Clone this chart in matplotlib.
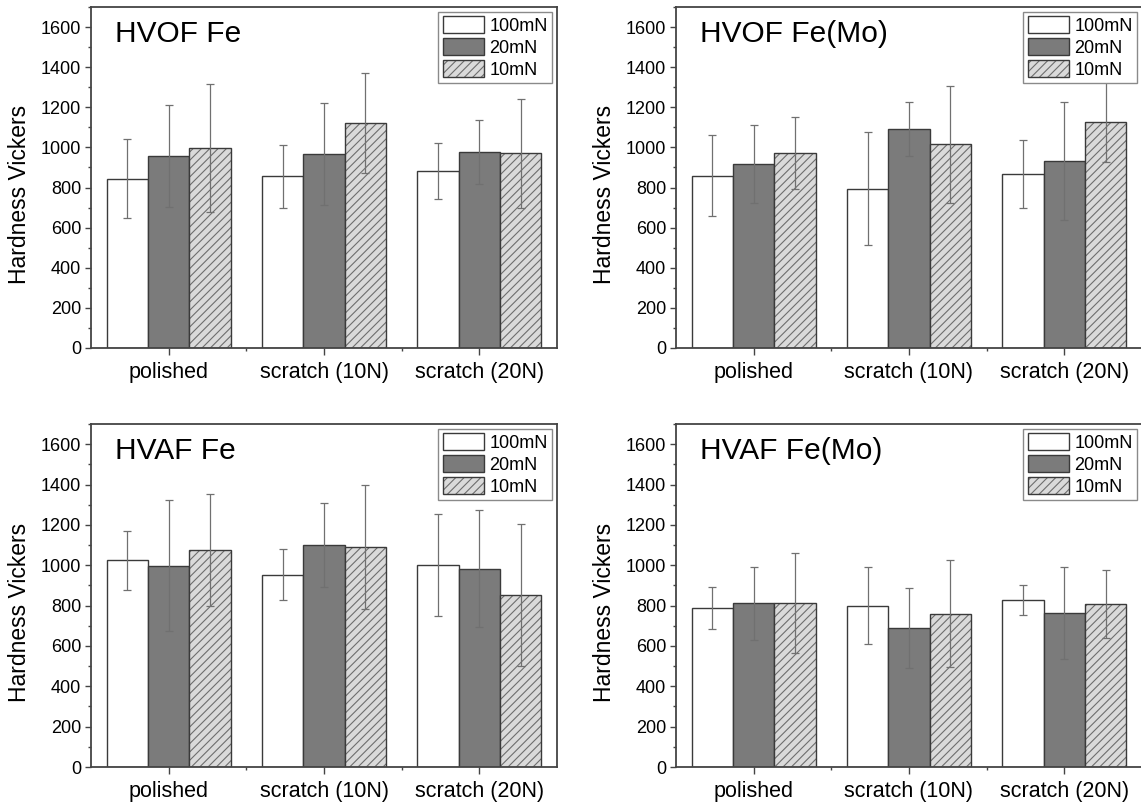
import matplotlib
matplotlib.use('Agg')
import matplotlib.pyplot as plt
import numpy as np
from matplotlib.ticker import MultipleLocator, FixedLocator

plt.rcParams['font.family'] = ['Liberation Sans', 'DejaVu Sans']
plt.rcParams['hatch.linewidth'] = 0.8

categories = ['polished', 'scratch (10N)', 'scratch (20N)']
loads = ['100mN', '20mN', '10mN']

# hardness (HV) per load, one list per surface state
hvof_fe = [[845, 856, 881], [957, 967, 977], [998, 1121, 970]]
hvof_fe_err = [[198, 158, 139], [254, 255, 161], [318, 248, 273]]

hvof_femo = [[859, 794, 867], [917, 1090, 932], [973, 1015, 1128]]
hvof_femo_err = [[201, 283, 168], [195, 135, 295], [178, 291, 199]]

hvaf_fe = [[1024, 954, 1000], [997, 1100, 982], [1077, 1092, 853]]
hvaf_fe_err = [[145, 125, 252], [324, 208, 290], [278, 307, 351]]

hvaf_femo = [[788, 800, 827], [812, 689, 765], [815, 759, 808]]
hvaf_femo_err = [[102, 190, 75], [181, 200, 228], [248, 265, 170]]

panels = [
    ('HVOF Fe', hvof_fe, hvof_fe_err),
    ('HVOF Fe(Mo)', hvof_femo, hvof_femo_err),
    ('HVAF Fe', hvaf_fe, hvaf_fe_err),
    ('HVAF Fe(Mo)', hvaf_femo, hvaf_femo_err),
]

face = ['white', '#7b7b7b', '#dadada']
hatches = [None, None, '////']
hatch_col = '#6e6e6e'
edge = '#3a3a3a'
spine_col = '#444444'

W, H = 1141, 802
fig = plt.figure(figsize=(W / 100, H / 100), dpi=100)

axw = 466 / W
boxes = [
    (91 / W, (H - 348) / H, axw, 341 / H),
    (676 / W, (H - 348) / H, axw, 341 / H),
    (91 / W, (H - 767) / H, axw, 343 / H),
    (676 / W, (H - 767) / H, axw, 343 / H),
]

x = np.arange(1, len(categories) + 1)
bw = 0.8 / 3

for (title, vals, errs), box in zip(panels, boxes):
    ax = fig.add_axes(box)
    handles = []
    for i in range(3):
        pos = x + (i - 1) * bw
        if hatches[i]:
            fill = ax.bar(pos, vals[i], bw, color=face[i], hatch=hatches[i],
                          edgecolor=hatch_col, linewidth=0, zorder=2)
            line = ax.bar(pos, vals[i], bw, fill=False, edgecolor=edge,
                          linewidth=1.0, zorder=2.5)
            handles.append((fill, line))
        else:
            b = ax.bar(pos, vals[i], bw, color=face[i], edgecolor=edge,
                       linewidth=1.0, zorder=2)
            handles.append(b)
        ax.errorbar(pos, vals[i], yerr=errs[i], fmt='none', ecolor='#707070',
                    elinewidth=0.9, capsize=3, capthick=0.9, zorder=3)

    ax.set_xlim(0.5, 3.5)
    ax.set_ylim(0, 1700)
    ax.yaxis.set_major_locator(MultipleLocator(200))
    ax.yaxis.set_minor_locator(MultipleLocator(100))
    ax.set_xticks(x)
    ax.set_xticklabels(categories, fontsize=15.5)
    ax.xaxis.set_minor_locator(FixedLocator([1.5, 2.5]))
    ax.tick_params(axis='y', which='major', direction='out', length=4,
                   width=1.0, color=spine_col, labelsize=13, pad=3)
    ax.tick_params(axis='y', which='minor', direction='out', length=2.5,
                   width=1.0, color=spine_col)
    ax.tick_params(axis='x', which='major', direction='out', length=5,
                   width=1.0, color=spine_col, pad=5)
    ax.tick_params(axis='x', which='minor', direction='out', length=2.5,
                   width=1.0, color=spine_col)
    for s in ax.spines.values():
        s.set_color(spine_col)
        s.set_linewidth(1.3)
    ax.set_ylabel('Hardness Vickers', fontsize=16.5)
    ax.yaxis.set_label_coords(-0.128, 0.45)
    ax.text(0.052, 0.921, title, transform=ax.transAxes, fontsize=21.5,
            va='center', ha='left')
    leg = ax.legend(handles, loads, loc='upper right', fontsize=13,
                    frameon=True, fancybox=False, framealpha=1,
                    edgecolor='#8a8a8a', borderpad=0.25, labelspacing=0.17,
                    handlelength=2.3, handleheight=1.1, handletextpad=0.3,
                    borderaxespad=0.25)
    leg.get_frame().set_linewidth(1.0)

fig.savefig('out.png', dpi=100)
